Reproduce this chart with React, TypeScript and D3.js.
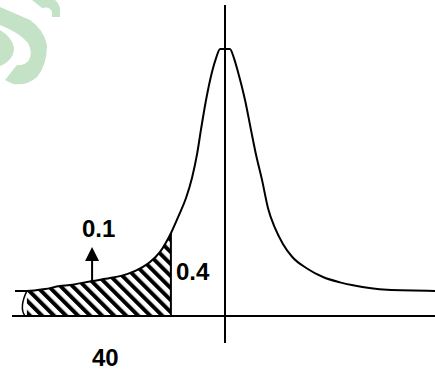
import React from "react";
import * as d3 from "d3";

// curve: position (units) and height (peak = 1)
const curveX = [
  -9.86, -9.3, -8.45, -7.75, -7.28, -6.24, -5.4, -4.6, -3.85, -3.52, -3.05, -2.54,
  -2.16, -1.83, -1.55, -1.31, -1.13, -0.89, -0.61, -0.42, -0.23,
  0.23, 0.42, 0.61, 0.94, 1.22, 1.46, 1.74, 2.02, 2.35, 2.72, 3.15, 3.85, 4.6, 5.4, 6.01, 7.61, 9.86,
];
const curveY = [
  0.094, 0.094, 0.101, 0.112, 0.116, 0.131, 0.142, 0.157, 0.184, 0.202, 0.24, 0.31,
  0.378, 0.442, 0.517, 0.607, 0.697, 0.809, 0.914, 0.966, 1.0,
  1.0, 0.966, 0.914, 0.809, 0.697, 0.603, 0.509, 0.404, 0.329, 0.27, 0.222, 0.178, 0.146, 0.126, 0.115, 0.098, 0.094,
];

// shaded tail
const shadeFrom = -9.3;
const shadeTo = -2.54;

// annotations
const labels = ["0.1", "0.4", "40"];
const arrowAt = -6.24;

const W = 435;
const H = 372;

export default function App() {
  const x = d3.scaleLinear().domain([-10, 10]).range([12, 438]);
  const y = d3.scaleLinear().domain([0, 1]).range([316, 49]);

  const pts: [number, number][] = curveX.map((v, i) => [v, curveY[i]]);
  const line = d3
    .line<[number, number]>()
    .x((d) => x(d[0]))
    .y((d) => y(d[1]))
    .curve(d3.curveMonotoneX);

  const shadePts = pts.filter((d) => d[0] >= shadeFrom && d[0] <= shadeTo);
  const area = d3
    .area<[number, number]>()
    .x((d) => x(d[0]))
    .y0(y(0))
    .y1((d) => y(d[1]))
    .curve(d3.curveMonotoneX);

  const xa = x(arrowAt);
  const ya = y(0.131);

  return (
    <svg
      width={W}
      height={H}
      style={{ position: "absolute", left: 0, top: 0, background: "#fff" }}
    >
      <defs>
        <pattern
          id="hatch"
          width={8.5}
          height={8.5}
          patternUnits="userSpaceOnUse"
          patternTransform="rotate(-45)"
        >
          <line x1={2} y1={0} x2={2} y2={8.5} stroke="#000" strokeWidth={4} />
        </pattern>
      </defs>

      {/* watermark */}
      <g fill="#c3e2c6">
        <path d="M0,7 L30,20 Q44,30 47,45 Q47,65 37,77 Q27,86 13,84 L5,80 L17,65 Q25,66 29,60 Q33,52 28,43 Q20,33 0,25 Z" />
        <path d="M32,0 L42,8 Q50,6 52,12 L52,17 L60,17 L60,8 Q58,2 55,0 Z" />
        <path d="M0,30 Q12,37 14,48 Q14,60 0,66 Z" />
      </g>

      {/* shaded tail */}
      <path d={area(shadePts) ?? ""} fill="url(#hatch)" />
      <path
        d={`M${x(shadeFrom)},${y(0.094)} Q${x(shadeFrom) - 8},${(y(0.094) + y(0)) / 2 + 4} ${x(shadeFrom) - 2},${y(0)}`}
        fill="none"
        stroke="#000"
        strokeWidth={1.5}
      />
      <line x1={x(shadeTo)} x2={x(shadeTo)} y1={y(0)} y2={y(0.31)} stroke="#000" strokeWidth={2} />

      {/* axes */}
      <line x1={12} x2={435} y1={y(0)} y2={y(0)} stroke="#000" strokeWidth={2} />
      <line x1={x(0)} x2={x(0)} y1={5} y2={343} stroke="#000" strokeWidth={2} />

      {/* curve */}
      <path d={line(pts) ?? ""} fill="none" stroke="#000" strokeWidth={2} />

      {/* arrow */}
      <line x1={xa} x2={xa} y1={ya} y2={ya - 22} stroke="#000" strokeWidth={2} />
      <path d={`M${xa - 7},${ya - 20} L${xa + 7},${ya - 20} L${xa},${ya - 34} Z`} fill="#000" />

      <g fontFamily="Liberation Sans, Arial, Helvetica, sans-serif" fontWeight="bold" fontSize={24}>
        <text x={82} y={237}>{labels[0]}</text>
        <text x={176} y={280}>{labels[1]}</text>
        <text x={92} y={366}>{labels[2]}</text>
      </g>
    </svg>
  );
}
